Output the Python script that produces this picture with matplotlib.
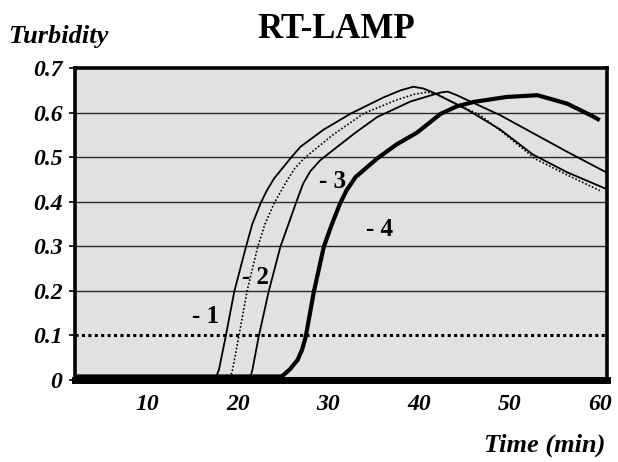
import matplotlib
matplotlib.use("Agg")
import matplotlib.pyplot as plt

# turbidity curves (time in min, turbidity)
t1 = [2, 17.6, 17.9, 18.65, 19.6, 20.9, 21.6, 22.5, 23.2, 24.0, 25.8, 26.9, 29.5, 32.5, 34.5, 36.1, 38.0, 39.4, 40.5,
      41.6, 45.3, 49.0, 52.6, 56.4, 60.8]
y1 = [0.008, 0.008, 0.022, 0.097, 0.198, 0.299, 0.35, 0.396, 0.425, 0.452, 0.497, 0.523, 0.562, 0.598, 0.618, 0.634,
      0.65, 0.658, 0.654, 0.645, 0.607, 0.562, 0.506, 0.466, 0.428]

t2 = [2, 19.2, 19.4, 20.1, 21.0, 22.2, 23.0, 24.0, 25.5, 26.3, 27.3, 30.5, 33.9, 37.5, 39.5, 40.9, 42.0, 43.5, 46.8,
      49.5, 52.8, 56.4, 60.0]
y2 = [0.008, 0.008, 0.022, 0.097, 0.198, 0.299, 0.35, 0.396, 0.45, 0.475, 0.497, 0.55, 0.598, 0.628, 0.641, 0.646,
      0.641, 0.626, 0.594, 0.552, 0.497, 0.46, 0.425]

t3 = [2, 21.4, 21.6, 22.3, 23.4, 24.7, 25.6, 26.4, 27.2, 28.0, 29.1, 30.6, 33.0, 35.4, 39.1, 42.4, 43.2, 44.2, 49.0,
      52.7, 56.4, 60.8]
y3 = [0.008, 0.008, 0.022, 0.097, 0.198, 0.299, 0.35, 0.396, 0.44, 0.468, 0.493, 0.517, 0.555, 0.59, 0.625, 0.645,
      0.647, 0.639, 0.594, 0.553, 0.512, 0.465]

t4 = [2, 24.8, 25.1, 25.8, 26.6, 27.1, 27.5, 28.4, 29.5, 30.4, 31.3, 32.0, 33.0, 35.4, 37.5, 39.8, 42.4, 44.2, 46.1,
      49.7, 53.1, 56.4, 59.0, 60.0]
y4 = [0.008, 0.008, 0.012, 0.025, 0.045, 0.068, 0.097, 0.198, 0.299, 0.35, 0.396, 0.425, 0.455, 0.497, 0.528, 0.555,
      0.597, 0.614, 0.624, 0.635, 0.639, 0.62, 0.594, 0.583]

threshold = 0.1
grid_levels = [0.2, 0.3, 0.4, 0.5, 0.6]

x_ticks = [10, 20, 30, 40, 50, 60]
y_ticks = [0, 0.1, 0.2, 0.3, 0.4, 0.5, 0.6, 0.7]
y_tick_labels = ["0", "0.1", "0.2", "0.3", "0.4", "0.5", "0.6", "0.7"]

curve_labels = ["- 1", "- 2", "- 3", "- 4"]
label_pos = [(16.45, 0.142), (22.0, 0.229), (30.5, 0.445), (35.7, 0.337)]

serif = "Liberation Serif"

fig = plt.figure(figsize=(6.18, 4.62), dpi=100)
ax = fig.add_axes([75/618, 1-380/462, 532/618, 312/462])
ax.set_facecolor("#e1e1e1")

for g in grid_levels:
    ax.axhline(g, color="#2a2a2a", lw=1.0, zorder=1)
ax.axhline(threshold, color="black", lw=2.2, ls=(0, (1, 1.1)), zorder=1)

ax.plot(t1, y1, color="black", lw=1.3, zorder=3)
ax.plot(t2, y2, color="black", lw=1.2, ls=(0, (1, 1.2)), zorder=3)
ax.plot(t3, y3, color="black", lw=1.3, zorder=3)
ax.plot(t4, y4, color="black", lw=3.0, zorder=4, solid_capstyle="butt")

for lab, (x, y) in zip(curve_labels, label_pos):
    ax.text(x, y, lab, fontsize=18, fontweight="bold", family=serif,
            ha="center", va="center", zorder=5)

ax.set_xlim(2, 60.8)
ax.set_ylim(0, 0.7)
ax.set_xticks(x_ticks)
ax.set_xticklabels([str(v) for v in x_ticks])
ax.set_yticks(y_ticks)
ax.set_yticklabels(y_tick_labels)
ax.tick_params(axis="x", length=0, pad=10)
ax.tick_params(axis="y", length=4, width=1.2, direction="out", pad=5)
for lab in ax.get_xticklabels() + ax.get_yticklabels():
    lab.set_family(serif)
    lab.set_fontsize(17)
    lab.set_fontweight("bold")
    lab.set_fontstyle("italic")

for side in ["left", "top", "right"]:
    ax.spines[side].set_linewidth(2.6)
ax.spines["bottom"].set_linewidth(5)

fig.text(8/618, 1-36/462, "Turbidity", family=serif, fontsize=19,
         fontweight="bold", style="italic", ha="left", va="center")
fig.text(336/618, 1-29/462, "RT-LAMP", family=serif, fontsize=25,
         fontweight="bold", ha="center", va="center")
fig.text(605/618, 1-445/462, "Time (min)", family=serif, fontsize=19,
         fontweight="bold", style="italic", ha="right", va="center")

fig.savefig("out.png", dpi=100)
